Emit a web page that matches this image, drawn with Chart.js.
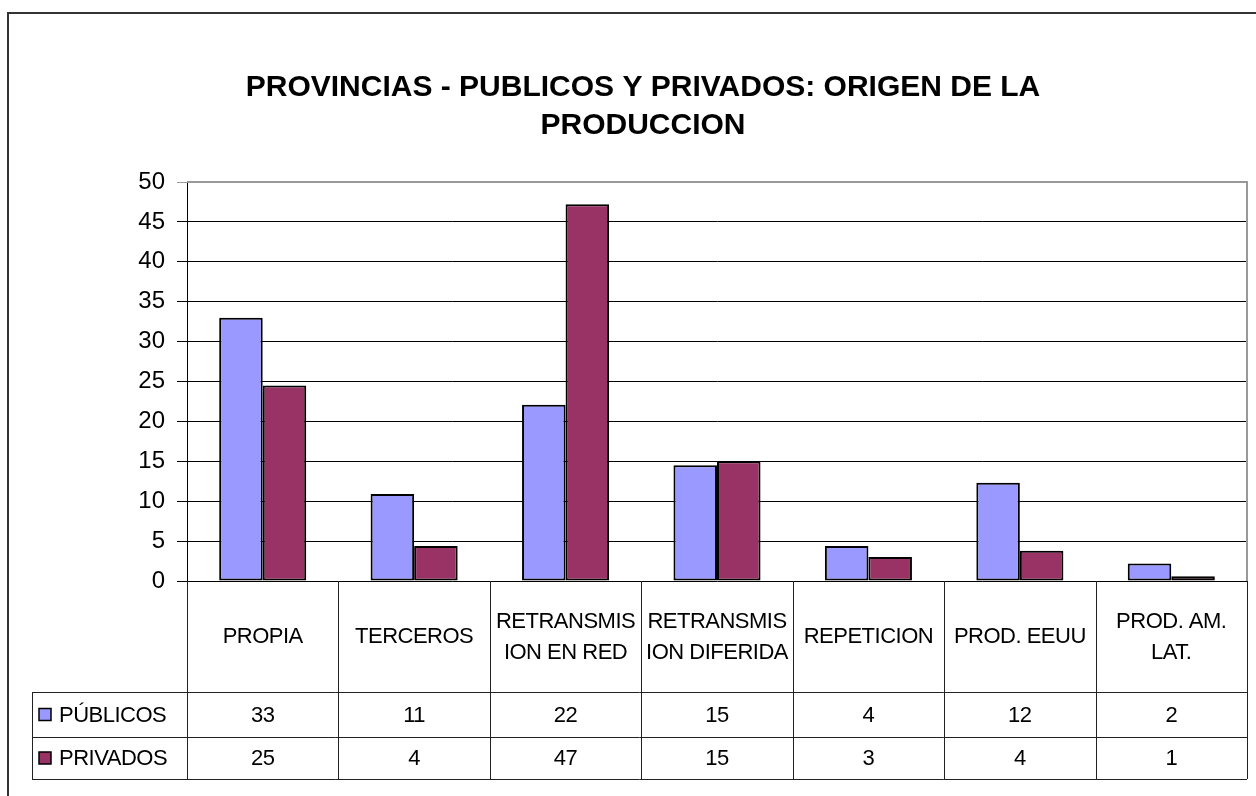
<!DOCTYPE html>
<html>
<head>
<meta charset="utf-8">
<script src="https://cdn.jsdelivr.net/npm/chart.js@4.4.0/dist/chart.umd.min.js"></script>
<style>
  html, body { margin: 0; padding: 0; background: #fff; }
  #wrap { width: 1256px; height: 796px; position: relative; }
</style>
</head>
<body>
<div id="wrap"><canvas id="grafico" width="1256" height="796"></canvas></div>
<script>
const titulo = ["PROVINCIAS - PUBLICOS Y PRIVADOS: ORIGEN DE LA", "PRODUCCION"];
const categorias = [
  ["PROPIA"],
  ["TERCEROS"],
  ["RETRANSMIS", "ION EN RED"],
  ["RETRANSMIS", "ION DIFERIDA"],
  ["REPETICION"],
  ["PROD. EEUU"],
  ["PROD. AM.", "LAT."]
];
const series = ["PÚBLICOS", "PRIVADOS"];
const publicos = [33, 10.9, 22.1, 14.5, 4.4, 12.3, 2.2];
const privados = [24.5, 4.4, 47.2, 15.0, 3.0, 3.8, 0.6];
const ticksY = [0, 5, 10, 15, 20, 25, 30, 35, 40, 45, 50];

const colores = ["#9999ff", "#993366"];
const fuente = "'Liberation Sans', Arial, sans-serif";

// tabla de datos, titulo y marcos dibujados con las escalas del grafico
const tablaPlugin = {
  id: "tabla",
  afterDraw(chart) {
    const { ctx, chartArea: a, scales: { x } } = chart;
    const n = categorias.length;
    const paso = x.getPixelForValue(1) - x.getPixelForValue(0);
    const borde = i => x.getPixelForValue(i) - paso / 2;
    const filaTop = 692, filaMed = 737, filaBot = 779, colIzq = 32;

    ctx.save();
    // marco exterior
    ctx.strokeStyle = "#333";
    ctx.lineWidth = 2;
    ctx.beginPath();
    ctx.moveTo(8, 800);
    ctx.lineTo(8, 13);
    ctx.lineTo(1260, 13);
    ctx.stroke();

    // titulo
    ctx.fillStyle = "#000";
    ctx.font = "bold 30px " + fuente;
    ctx.textAlign = "center";
    ctx.textBaseline = "middle";
    ctx.fillText(titulo[0], 643, 88);
    ctx.fillText(titulo[1], 643, 126);

    // borde del area de trazado
    ctx.strokeStyle = "#999";
    ctx.lineWidth = 2;
    ctx.beginPath();
    ctx.moveTo(a.left, a.top);
    ctx.lineTo(a.right, a.top);
    ctx.lineTo(a.right, a.bottom);
    ctx.stroke();

    // lineas de la tabla
    ctx.strokeStyle = "#222";
    ctx.lineWidth = 1;
    ctx.beginPath();
    for (let i = 0; i <= n; i++) {
      const px = Math.round(borde(i)) + 0.5;
      ctx.moveTo(px, a.bottom);
      ctx.lineTo(px, filaBot);
    }
    [filaTop, filaMed, filaBot].forEach(py => {
      ctx.moveTo(colIzq, py + 0.5);
      ctx.lineTo(a.right, py + 0.5);
    });
    ctx.moveTo(colIzq + 0.5, filaTop);
    ctx.lineTo(colIzq + 0.5, filaBot);
    ctx.stroke();

    // etiquetas de categorias
    ctx.font = "22px " + fuente;
    ctx.letterSpacing = "-0.5px";
    categorias.forEach((lineas, i) => {
      const cx = x.getPixelForValue(i);
      const cy = (a.bottom + filaTop) / 2;
      lineas.forEach((t, k) => {
        const dy = lineas.length === 1 ? 0 : (k === 0 ? -15 : 16);
        ctx.fillText(t, cx, cy + dy);
      });
    });

    // filas de valores
    const filas = [[publicos, filaTop, filaMed], [privados, filaMed, filaBot]];
    filas.forEach(([vals, t, b], s) => {
      const cy = (t + b) / 2 + 1;
      ctx.textAlign = "center";
      vals.forEach((v, i) => ctx.fillText(String(Math.round(v)), x.getPixelForValue(i), cy));
      ctx.fillStyle = colores[s];
      ctx.fillRect(39, cy - 7, 12, 12);
      ctx.strokeStyle = "#000";
      ctx.lineWidth = 1.5;
      ctx.strokeRect(39, cy - 7, 12, 12);
      ctx.fillStyle = "#000";
      ctx.textAlign = "left";
      ctx.fillText(series[s], 59, cy);
    });
    ctx.restore();
  }
};

new Chart(document.getElementById("grafico"), {
  type: "bar",
  data: {
    labels: categorias.map(c => c.join(" ")),
    datasets: [
      { label: series[0], data: publicos, backgroundColor: colores[0] },
      { label: series[1], data: privados, backgroundColor: colores[1] }
    ]
  },
  options: {
    responsive: false,
    animation: false,
    layout: { padding: { left: 0, top: 182, right: 9, bottom: 215 } },
    datasets: {
      bar: {
        borderColor: "#000",
        borderWidth: 2,
        borderSkipped: false,
        categoryPercentage: 0.575,
        barPercentage: 1
      }
    },
    plugins: {
      legend: { display: false },
      title: { display: false },
      tooltip: { enabled: false }
    },
    scales: {
      x: { display: false },
      y: {
        min: 0,
        max: 50,
        afterFit: axis => { axis.width = 187; },
        afterBuildTicks: axis => { axis.ticks = ticksY.map(v => ({ value: v })); },
        ticks: {
          color: "#000",
          padding: 12,
          font: { family: fuente, size: 24 }
        },
        grid: {
          color: c => (c.tick && c.tick.value === 50 ? "#999" : "#000"),
          lineWidth: 1,
          tickLength: 10
        },
        border: { color: "#000", width: 1 }
      }
    }
  },
  plugins: [tablaPlugin]
});
</script>
</body>
</html>
